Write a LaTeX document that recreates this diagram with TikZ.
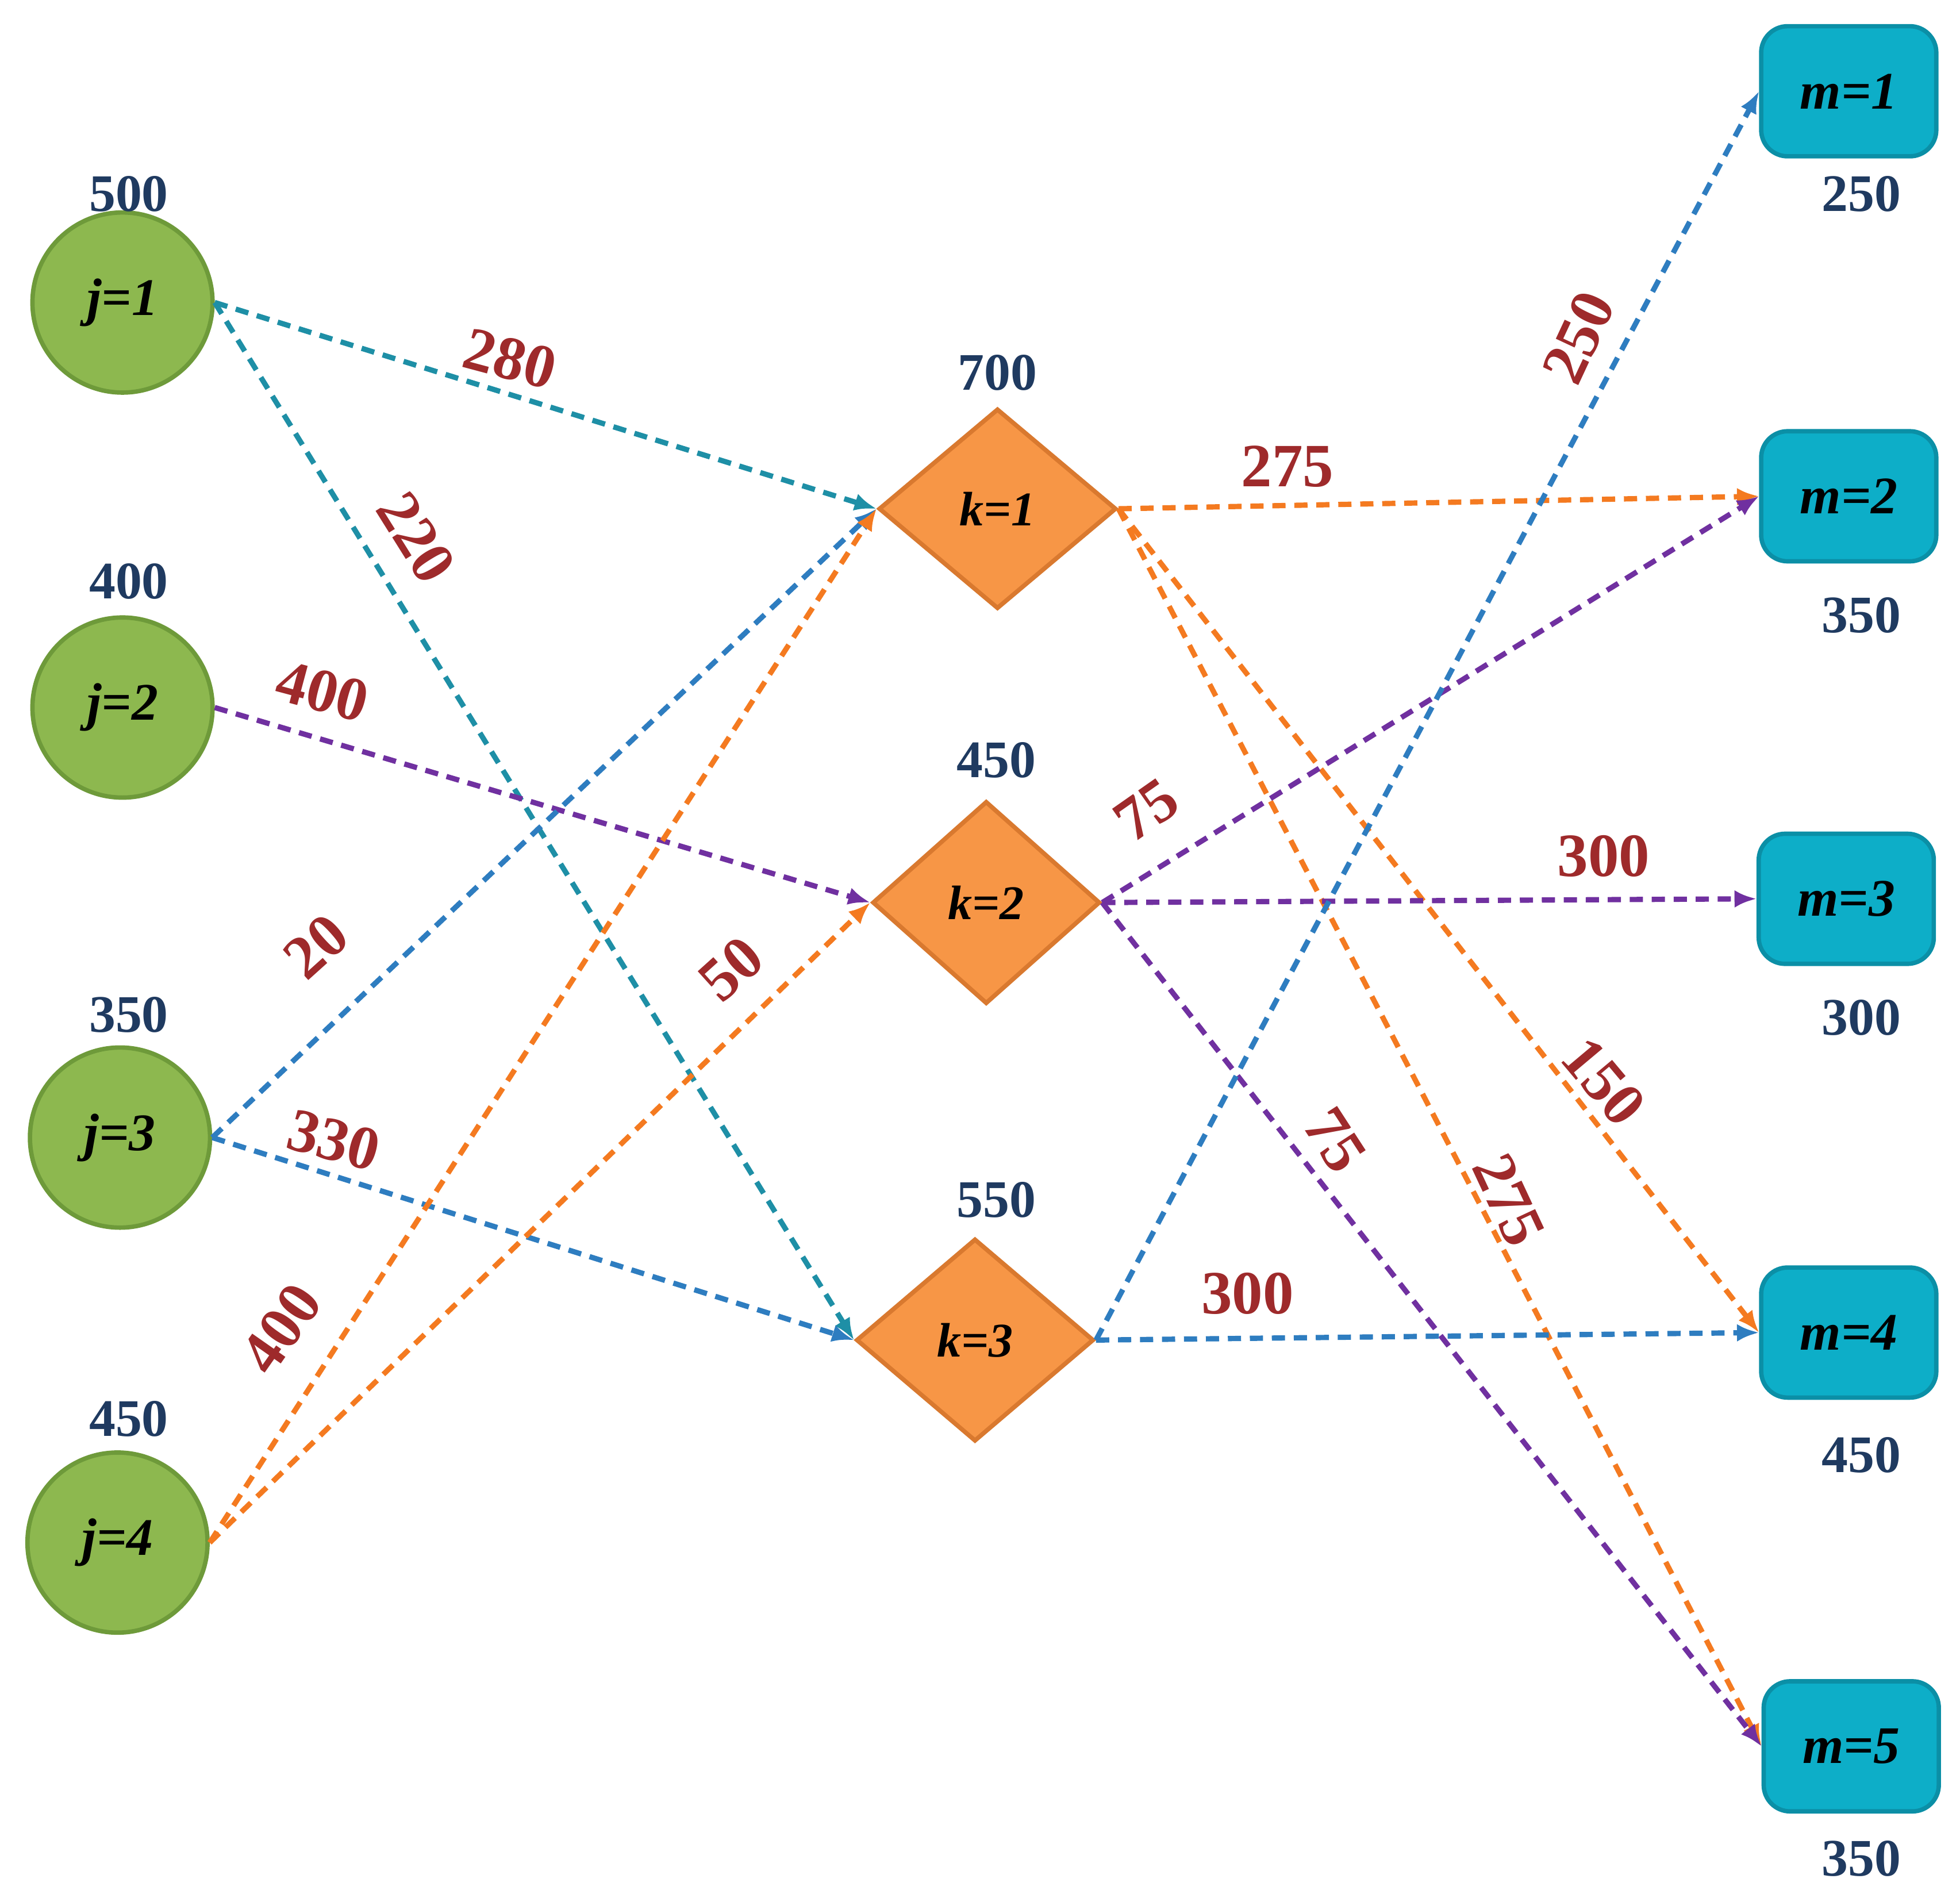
\documentclass[tikz,border=0pt]{standalone}
\usepackage{fontspec}
\setmainfont{Liberation Serif}
\usetikzlibrary{shapes.geometric,arrows.meta}
\definecolor{gfill}{HTML}{8DB84F}
\definecolor{gline}{HTML}{6E9A3A}
\definecolor{ofill}{HTML}{F79646}
\definecolor{oline}{HTML}{D9792F}
\definecolor{cfill}{HTML}{0DAEC8}
\definecolor{cline}{HTML}{0B8FA6}
\definecolor{lab}{HTML}{9E2A2B}
\definecolor{top}{HTML}{1F3A60}
\definecolor{eteal}{HTML}{1E8FA6}
\definecolor{epur}{HTML}{7030A0}
\definecolor{eor}{HTML}{F47A20}
\definecolor{eblue}{HTML}{2E7DC0}
\begin{document}
\begin{tikzpicture}[x=0.01cm,y=-0.01cm,
 src/.style={circle,draw=gline,fill=gfill,line width=1pt,minimum size=1.44cm,inner sep=0pt,font=\fontsize{12}{14}\selectfont\bfseries\itshape},
 hub/.style={diamond,draw=oline,fill=ofill,line width=1pt,minimum width=1.9cm,minimum height=1.6cm,inner sep=0pt,font=\fontsize{11}{13}\selectfont\bfseries\itshape},
 dst/.style={rectangle,rounded corners=6pt,draw=cline,fill=cfill,line width=1pt,minimum width=1.4cm,minimum height=1.04cm,font=\fontsize{12}{14}\selectfont\bfseries\itshape},
 amt/.style={text=top,font=\fontsize{12}{14}\selectfont\bfseries},
 wl/.style={text=lab,font=\fontsize{14}{16}\selectfont\bfseries},
 e/.style={dashed,dash pattern=on 3pt off 2pt,line width=1.2pt,-{Latex[length=5pt,width=4pt]}}]
\useasboundingbox (0,0) rectangle (1568,1515);
\node[src] (j1) at (98,242) {j=1};
\node[src] (j2) at (98,566) {j=2};
\node[src] (j3) at (96,910) {j=3};
\node[src] (j4) at (94,1234) {j=4};
\node[amt] (c1) at (103,155) {500};
\node[amt] (c2) at (103,465) {400};
\node[amt] (c3) at (103,812) {350};
\node[amt] (c4) at (103,1135) {450};
\node[hub] (k1) at (798,407) {k=1};
\node[hub,minimum width=1.82cm,minimum height=1.62cm] (k2) at (789,722) {k=2};
\node[hub,minimum height=1.62cm] (k3) at (780,1072) {k=3};
\node[amt] (d1) at (798,298) {700};
\node[amt] (d2) at (797,608) {450};
\node[amt] (d3) at (797,960) {550};
\node[dst] (m1) at (1479,73) {m=1};
\node[dst] (m2) at (1479,397) {m=2};
\node[dst] (m3) at (1477,719) {m=3};
\node[dst] (m4) at (1479,1066) {m=4};
\node[dst] (m5) at (1481,1397) {m=5};
\node[amt] (n1) at (1489,155) {250};
\node[amt] (n2) at (1489,492) {350};
\node[amt] (n3) at (1489,814) {300};
\node[amt] (n4) at (1489,1164) {450};
\node[amt] (n5) at (1489,1487) {350};
\draw[e,eteal] (j1.east) -- (k1.west);
\draw[e,eteal] (j1.east) -- (k3.west);
\draw[e,epur] (j2.east) -- (k2.west);
\draw[e,eblue] (j3.east) -- (k1.west);
\draw[e,eblue] (j3.east) -- (k3.west);
\draw[e,eor] (j4.east) -- (k1.west);
\draw[e,eor] (j4.east) -- (k2.west);
\draw[e,eor] (k1.east) -- (m2.west);
\draw[e,eor] (k1.east) -- (m4.west);
\draw[e,eor] (k1.east) -- (m5.west);
\draw[e,epur] (k2.east) -- (m2.west);
\draw[e,epur] (k2.east) -- (m3.west);
\draw[e,epur] (k2.east) -- (m5.west);
\draw[e,eblue] (k3.east) -- (m1.west);
\draw[e,eblue] (k3.east) -- (m4.west);
\node[wl,rotate=-15] (w1) at (408,287) {280};
\node[wl,rotate=-58] (w2) at (333,430) {220};
\node[wl,rotate=-15] (w3) at (258,553) {400};
\node[wl,rotate=42] (w4) at (253,757) {20};
\node[wl,rotate=-15] (w5) at (267,912) {330};
\node[wl,rotate=55] (w6) at (225,1063) {400};
\node[wl,rotate=42] (w7) at (585,775) {50};
\node[wl] (w8) at (1030,373) {275};
\node[wl,rotate=-50] (w9) at (1283,865) {150};
\node[wl,rotate=-65] (w10) at (1207,960) {275};
\node[wl,rotate=35] (w11) at (917,648) {75};
\node[wl] (w12) at (1283,685) {300};
\node[wl,rotate=-57] (w13) at (1068,912) {75};
\node[wl,rotate=65] (w14) at (1263,270) {250};
\node[wl] (w15) at (998,1035) {300};
\end{tikzpicture}
\end{document}
